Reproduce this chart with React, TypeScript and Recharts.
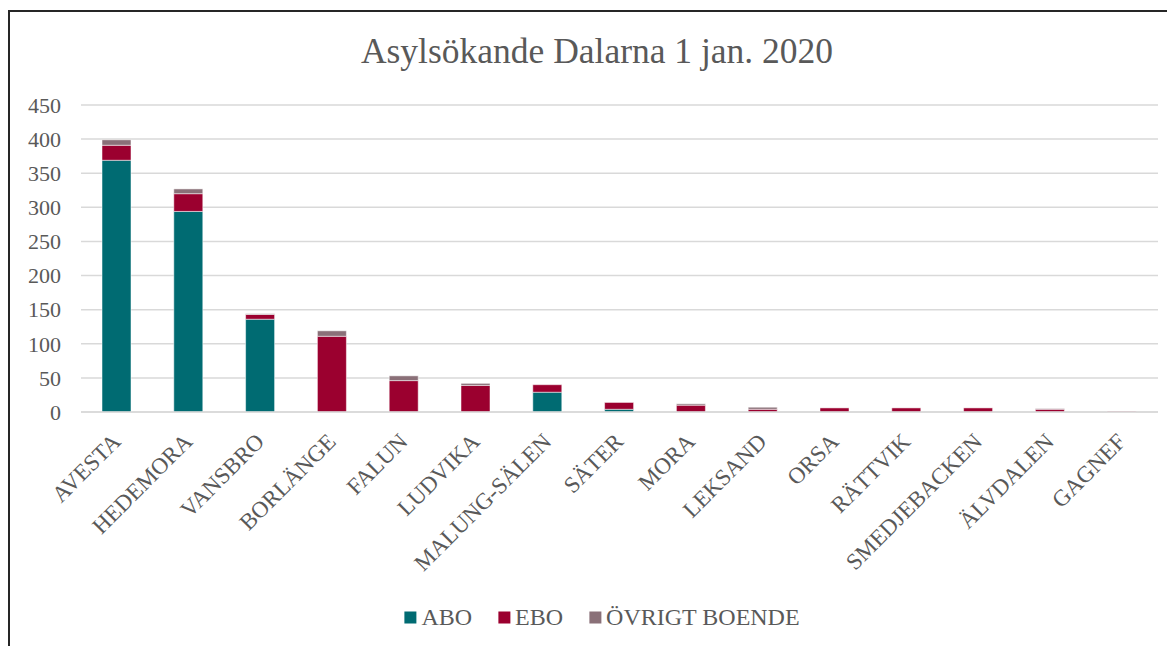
import React from 'react';
import { BarChart, Bar, XAxis, YAxis, CartesianGrid } from 'recharts';

const municipalities = [
  'AVESTA', 'HEDEMORA', 'VANSBRO', 'BORLÄNGE', 'FALUN', 'LUDVIKA', 'MALUNG-SÄLEN',
  'SÄTER', 'MORA', 'LEKSAND', 'ORSA', 'RÄTTVIK', 'SMEDJEBACKEN', 'ÄLVDALEN', 'GAGNEF',
];
const aboValues = [369, 294, 136, 0, 0, 0, 29, 4, 0, 0, 0, 0, 0, 0, 0];
const eboValues = [22, 26, 7, 111, 46, 39, 11, 10, 10, 4, 6, 6, 6, 4, 1];
const ovrigtValues = [8, 7, 1, 8, 7, 3, 0, 0, 2, 3, 0, 0, 0, 1, 0];
const yTicks = [0, 50, 100, 150, 200, 250, 300, 350, 400, 450];

const series = [
  { key: 'abo', name: 'ABO', color: '#006B72' },
  { key: 'ebo', name: 'EBO', color: '#9B002F' },
  { key: 'ovrigt', name: 'ÖVRIGT BOENDE', color: '#8A7078' },
];

const data = municipalities.map((name, i) => ({
  name,
  abo: aboValues[i],
  ebo: eboValues[i],
  ovrigt: ovrigtValues[i],
}));

const FONT = "'Liberation Serif', 'Times New Roman', serif";
const TEXT = '#595959';

const AngledTick = (props: any) => {
  const { x, y, payload } = props;
  return (
    <g transform={`translate(${x + 5},${y + 31})`}>
      <text
        textAnchor="end"
        transform="rotate(-45)"
        fill={TEXT}
        fontSize={23}
        fontFamily={FONT}
      >
        {payload.value}
      </text>
    </g>
  );
};

export default function App() {
  return (
    <div
      style={{
        position: 'relative',
        top: 2,
        width: 1165,
        height: 636,
        borderTop: '2px solid #262626',
        borderLeft: '2px solid #262626',
        fontFamily: FONT,
        background: '#fff',
      }}
    >
      <div
        style={{
          position: 'absolute',
          left: 587,
          top: 21,
          transform: 'translateX(-50%)',
          whiteSpace: 'nowrap',
          fontSize: 35.5,
          lineHeight: '36px',
          color: TEXT,
        }}
      >
        Asylsökande Dalarna 1 jan. 2020
      </div>

      <div style={{ position: 'absolute', left: 0, top: 0 }}>
        <BarChart
          width={1165}
          height={636}
          data={data}
          margin={{ top: 93, right: 17, left: 0, bottom: 0 }}
        >
          <CartesianGrid vertical={false} stroke="#D9D9D9" strokeWidth={1.5} />
          <XAxis
            dataKey="name"
            interval={0}
            tickLine={false}
            tickSize={0}
            tickMargin={0}
            axisLine={{ stroke: '#D9D9D9', strokeWidth: 1.5 }}
            height={236}
            tick={<AngledTick />}
          />
          <YAxis
            width={71}
            domain={[0, 450]}
            ticks={yTicks}
            axisLine={false}
            tickLine={false}
            tickSize={0}
            tickMargin={20}
            tick={{ fill: TEXT, fontSize: 22, fontFamily: FONT }}
          />
          {series.map((s) => (
            <Bar
              key={s.key}
              dataKey={s.key}
              name={s.name}
              stackId="a"
              fill={s.color}
              barSize={29}
              stroke="rgba(255,255,255,0.5)"
              strokeWidth={1}
              isAnimationActive={false}
            />
          ))}
        </BarChart>
      </div>

      <div
        style={{
          position: 'absolute',
          left: 592,
          top: 605,
          transform: 'translate(-50%, -50%)',
          display: 'flex',
          alignItems: 'center',
          whiteSpace: 'nowrap',
          fontSize: 24,
          color: TEXT,
        }}
      >
        {series.map((s, i) => (
          <div
            key={s.key}
            style={{ display: 'flex', alignItems: 'center', marginLeft: i === 0 ? 0 : 26 }}
          >
            <span style={{ width: 12, height: 12, background: s.color, marginRight: 5, display: 'inline-block' }} />
            <span>{s.name}</span>
          </div>
        ))}
      </div>
    </div>
  );
}
